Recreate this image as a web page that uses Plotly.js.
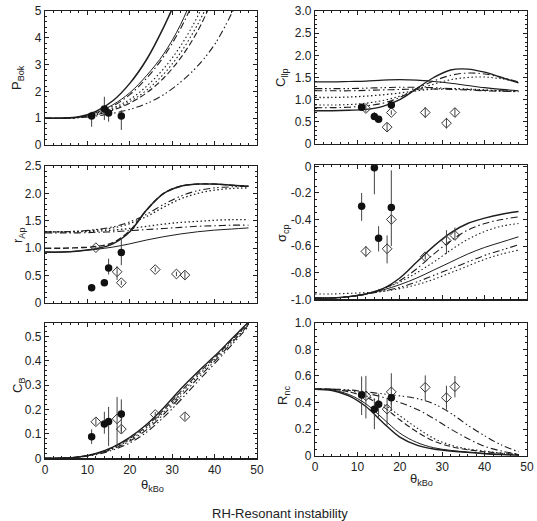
<!DOCTYPE html>
<html>
<head>
<meta charset="utf-8">
<script src="https://cdn.plot.ly/plotly-3.0.1.min.js"></script>
<style>
  html, body { margin: 0; padding: 0; background: #fff; }
  #chart { width: 537px; height: 521px; }
</style>
</head>
<body>
<div id="chart"></div>
<script>
// ---------- model curves, sampled on a common theta grid ----------
const thetaGrid = [0, 4, 8, 12, 16, 20, 24, 28, 32, 36, 40, 44, 48];

// P_Bok
const pBokSolidA   = [1, 1.0, 1.05, 1.25, 1.65, 2.3, 3.2, 4.4, 5.8];
const pBokSolidB   = [1, 1.0, 1.04, 1.2, 1.5, 1.95, 2.6, 3.4, 4.5, 6.0];
const pBokDashDot  = [1, 1.0, 1.04, 1.18, 1.45, 1.88, 2.5, 3.3, 4.35, 5.7];
const pBokDotA     = [1, 1.0, 1.03, 1.15, 1.38, 1.7, 2.2, 2.85, 3.7, 4.8, 6.2];
const pBokDotB     = [1, 1.0, 1.03, 1.13, 1.33, 1.62, 2.05, 2.65, 3.45, 4.5, 5.8];
const pBokDash     = [1, 1.0, 1.03, 1.12, 1.3, 1.56, 1.95, 2.5, 3.25, 4.25, 5.6];
const pBokDashDot2 = [1, 1.0, 1.02, 1.08, 1.18, 1.33, 1.55, 1.88, 2.35, 2.95, 3.75, 4.9, 6.2];

// C_llp
const cllpSolidRise  = [0.75, 0.75, 0.76, 0.78, 0.85, 1.0, 1.25, 1.5, 1.67, 1.69, 1.62, 1.5, 1.38];
const cllpDashDotRise= [0.82, 0.82, 0.83, 0.86, 0.92, 1.05, 1.25, 1.42, 1.55, 1.6, 1.58, 1.5, 1.4];
const cllpDotRise    = [0.88, 0.88, 0.89, 0.92, 0.98, 1.08, 1.22, 1.35, 1.45, 1.5, 1.51, 1.47, 1.4];
const cllpSolidFlat  = [1.4, 1.4, 1.41, 1.42, 1.44, 1.45, 1.44, 1.41, 1.37, 1.32, 1.27, 1.23, 1.2];
const cllpDashDot2Flat = [1.25, 1.25, 1.25, 1.26, 1.27, 1.28, 1.28, 1.27, 1.25, 1.23, 1.21, 1.2, 1.19];
const cllpDashDotFlat  = [1.2, 1.2, 1.2, 1.21, 1.22, 1.23, 1.24, 1.24, 1.23, 1.22, 1.2, 1.19, 1.18];
const cllpDotFlat    = [1.05, 1.05, 1.06, 1.08, 1.11, 1.15, 1.2, 1.24, 1.25, 1.24, 1.22, 1.2, 1.19];

// r_Ap
const rApSolidHigh  = [0.93, 0.93, 0.95, 0.99, 1.08, 1.3, 1.7, 2.0, 2.13, 2.17, 2.17, 2.15, 2.13];
const rApDashHigh   = [1.0, 1.0, 1.01, 1.03, 1.1, 1.32, 1.7, 2.0, 2.13, 2.17, 2.17, 2.15, 2.13];
const rApDotHigh    = [1.3, 1.3, 1.31, 1.33, 1.37, 1.45, 1.58, 1.75, 1.9, 2.0, 2.06, 2.09, 2.1];
const rApDashDot2High = [1.3, 1.3, 1.31, 1.34, 1.39, 1.48, 1.62, 1.8, 1.95, 2.05, 2.1, 2.12, 2.13];
const rApSolidLow   = [0.93, 0.93, 0.95, 0.98, 1.02, 1.08, 1.15, 1.21, 1.26, 1.3, 1.33, 1.35, 1.37];
const rApDotLow     = [1.3, 1.3, 1.3, 1.31, 1.33, 1.36, 1.4, 1.44, 1.47, 1.49, 1.51, 1.52, 1.52];
const rApDashDotLow = [1.28, 1.28, 1.28, 1.29, 1.3, 1.32, 1.34, 1.36, 1.38, 1.4, 1.41, 1.42, 1.42];

// sigma_cp
const sigSolidA   = [-0.99, -0.99, -0.98, -0.96, -0.92, -0.84, -0.72, -0.6, -0.5, -0.43, -0.39, -0.36, -0.34];
const sigDashDot  = [-0.99, -0.99, -0.98, -0.96, -0.92, -0.86, -0.77, -0.66, -0.56, -0.48, -0.43, -0.4, -0.38];
const sigDotA     = [-0.99, -0.99, -0.98, -0.96, -0.92, -0.87, -0.8, -0.72, -0.63, -0.55, -0.49, -0.45, -0.43];
const sigSolidB   = [-0.99, -0.99, -0.98, -0.96, -0.93, -0.89, -0.84, -0.78, -0.72, -0.66, -0.61, -0.57, -0.53];
const sigDashDot2 = [-0.99, -0.99, -0.98, -0.96, -0.94, -0.91, -0.87, -0.82, -0.77, -0.72, -0.67, -0.63, -0.59];
const sigDotB     = [-0.96, -0.96, -0.955, -0.95, -0.94, -0.92, -0.89, -0.85, -0.8, -0.75, -0.7, -0.66, -0.63];

// C_B
const cbSolid    = [0, 0.001, 0.006, 0.02, 0.046, 0.086, 0.14, 0.208, 0.285, 0.355, 0.42, 0.49, 0.56];
const cbDash     = [0, 0.001, 0.006, 0.019, 0.044, 0.081, 0.133, 0.199, 0.274, 0.346, 0.413, 0.485, 0.556];
const cbDot      = [0, 0.001, 0.005, 0.018, 0.041, 0.076, 0.126, 0.19, 0.265, 0.338, 0.407, 0.479, 0.552];
const cbDashDot  = [0, 0.001, 0.005, 0.017, 0.038, 0.071, 0.118, 0.181, 0.254, 0.328, 0.399, 0.473, 0.548];
const cbDashDot2 = [0, 0.001, 0.005, 0.015, 0.034, 0.063, 0.108, 0.169, 0.24, 0.315, 0.389, 0.465, 0.542];

// R_nc
const rncSolidA   = [0.5, 0.49, 0.45, 0.37, 0.25, 0.14, 0.08, 0.05, 0.035, 0.025, 0.015, 0.008, 0.003];
const rncSolidB   = [0.5, 0.495, 0.46, 0.39, 0.28, 0.17, 0.1, 0.06, 0.04, 0.028, 0.018, 0.01, 0.004];
const rncDash     = [0.5, 0.5, 0.48, 0.44, 0.37, 0.27, 0.18, 0.11, 0.07, 0.045, 0.03, 0.018, 0.008];
const rncDot      = [0.5, 0.5, 0.48, 0.45, 0.39, 0.3, 0.21, 0.13, 0.08, 0.05, 0.035, 0.02, 0.01];
const rncDashDot  = [0.5, 0.5, 0.49, 0.47, 0.44, 0.4, 0.35, 0.28, 0.2, 0.13, 0.07, 0.035, 0.012];
const rncDashDot2 = [0.5, 0.5, 0.495, 0.48, 0.465, 0.45, 0.43, 0.39, 0.32, 0.23, 0.15, 0.08, 0.03];

// ---------- observations ----------
const thetaFilled  = [11, 14, 15, 18];
const thetaDiamond = [12, 17, 18, 26, 31, 33];

const pBokFilled     = [1.08, 1.34, 1.19, 1.08];
const pBokFilledUp   = [0.16, 0.46, 0.24, 0.22];
const pBokFilledDown = [0.4, 0.41, 0.32, 0.52];

const cllpFilled     = [0.83, 0.62, 0.56, 0.88];
const cllpFilledUp   = [0.03, 0.1, 0.03, 0.1];
const cllpFilledDown = [0.03, 0.07, 0.03, 0.08];
const cllpDiamond     = [0.8, 0.38, 0.71, 0.71, 0.47, 0.71];
const cllpDiamondUp   = [0.08, 0.1, 0.05, 0.12, 0.12, 0.1];
const cllpDiamondDown = [0.08, 0.1, 0.05, 0.12, 0.12, 0.1];

const rApFilled     = [0.28, 0.37, 0.64, 0.92];
const rApFilledUp   = [0, 0, 0.17, 0.26];
const rApFilledDown = [0, 0, 0.12, 0.23];
const rApDiamond     = [1.01, 0.57, 0.37, 0.61, 0.53, 0.51];
const rApDiamondUp   = [0.03, 0.1, 0.04, 0.04, 0.04, 0.07];
const rApDiamondDown = [0.03, 0.15, 0.04, 0.04, 0.04, 0.07];

const sigFilled     = [-0.3, -0.01, -0.54, -0.31];
const sigFilledUp   = [0.1, 0.01, 0.09, 0.28];
const sigFilledDown = [0.11, 0.2, 0.1, 0.29];
const sigDiamond     = [-0.64, -0.62, -0.4, -0.68, -0.56, -0.52];
const sigDiamondUp   = [0.04, 0.1, 0.02, 0.02, 0.08, 0.06];
const sigDiamondDown = [0.04, 0.11, 0.02, 0.02, 0.1, 0.03];

const cbFilled     = [0.089, 0.141, 0.151, 0.182];
const cbFilledUp   = [0.03, 0.05, 0.06, 0.06];
const cbFilledDown = [0.03, 0.04, 0.1, 0.08];
const cbDiamond     = [0.15, 0.162, 0.12, 0.18, 0.24, 0.171];
const cbDiamondUp   = [0.015, 0.09, 0.01, 0.01, 0.01, 0.015];
const cbDiamondDown = [0.015, 0.11, 0.01, 0.01, 0.01, 0.015];

const rncFilled     = [0.456, 0.35, 0.386, 0.436];
const rncFilledUp   = [0.14, 0.08, 0.08, 0.03];
const rncFilledDown = [0.15, 0.15, 0.1, 0.1];
const rncDiamond     = [0.45, 0.35, 0.48, 0.514, 0.436, 0.519];
const rncDiamondUp   = [0.15, 0.08, 0.14, 0.09, 0.09, 0.08];
const rncDiamondDown = [0.17, 0.12, 0.1, 0.1, 0.09, 0.08];

// ---------- tick labels ----------
const thetaTicks = [0, 10, 20, 30, 40, 50];
const pBokTicks  = [0, 1, 2, 3, 4, 5];
const cllpTicks  = [0, 0.5, 1, 1.5, 2, 2.5, 3];
const cllpLabels = ['0', '0.5', '1.0', '1.5', '2.0', '2.5', '3.0'];
const rApTicks   = [0, 0.5, 1, 1.5, 2, 2.5];
const rApLabels  = ['0', '0.5', '1.0', '1.5', '2.0', '2.5'];
const sigTicks   = [0, -0.2, -0.4, -0.6, -0.8, -1.0];
const sigLabels  = ['0', '-0.2', '-0.4', '-0.6', '-0.8', '-1.0'];
const cbTicks    = [0, 0.1, 0.2, 0.3, 0.4, 0.5];
const cbLabels   = ['0', '0.1', '0.2', '0.3', '0.4', '0.5'];
const rncTicks   = [0, 0.2, 0.4, 0.6, 0.8, 1.0];
const rncLabels  = ['0', '0.2', '0.4', '0.6', '0.8', '1.0'];

// ---------- drawing ----------
const INK = '#1e1e1e';
const DASH = {
  solid: 'solid',
  dash: '6px,3px',
  dot: '1.5px,2.5px',
  dashdot: '7px,3px,1.5px,3px',
  dashdot2: '7px,3px,1.5px,2.5px,1.5px,3px'
};

const traces = [];

function curve(n, ys, dash, width) {
  traces.push({
    type: 'scatter', mode: 'lines',
    x: thetaGrid.slice(0, ys.length), y: ys,
    xaxis: 'x' + (n === 1 ? '' : n), yaxis: 'y' + (n === 1 ? '' : n),
    line: { color: INK, width: width || 1.1, dash: DASH[dash], shape: 'spline', smoothing: 1 },
    hoverinfo: 'skip', showlegend: false
  });
}

function points(n, xs, ys, up, down, filled) {
  traces.push({
    type: 'scatter', mode: 'markers',
    x: xs, y: ys,
    xaxis: 'x' + (n === 1 ? '' : n), yaxis: 'y' + (n === 1 ? '' : n),
    marker: filled
      ? { symbol: 'circle', size: 7.5, color: '#111' }
      : { symbol: 'diamond-open', size: 7.5, color: '#333', line: { width: 1, color: '#333' } },
    error_y: { type: 'data', symmetric: false, array: up, arrayminus: down,
               color: '#444', thickness: 1, width: 0 },
    cliponaxis: true,
    hoverinfo: 'skip', showlegend: false
  });
}

// panel 1: P_Bok
curve(1, pBokSolidA, 'solid', 1.5);
curve(1, pBokSolidB, 'solid', 1.0);
curve(1, pBokDashDot, 'dashdot');
curve(1, pBokDotA, 'dot');
curve(1, pBokDotB, 'dot');
curve(1, pBokDash, 'dash');
curve(1, pBokDashDot2, 'dashdot2');
points(1, thetaFilled, pBokFilled, pBokFilledUp, pBokFilledDown, true);

// panel 2: C_llp
curve(2, cllpSolidRise, 'solid', 1.4);
curve(2, cllpDashDotRise, 'dashdot');
curve(2, cllpDotRise, 'dot');
curve(2, cllpSolidFlat, 'solid', 1.2);
curve(2, cllpDashDot2Flat, 'dashdot2');
curve(2, cllpDashDotFlat, 'dashdot');
curve(2, cllpDotFlat, 'dot', 1.3);
points(2, thetaDiamond, cllpDiamond, cllpDiamondUp, cllpDiamondDown, false);
points(2, thetaFilled, cllpFilled, cllpFilledUp, cllpFilledDown, true);

// panel 3: r_Ap
curve(3, rApSolidHigh, 'solid', 1.5);
curve(3, rApDashHigh, 'dash', 1.4);
curve(3, rApDotHigh, 'dot', 1.3);
curve(3, rApDashDot2High, 'dashdot2');
curve(3, rApSolidLow, 'solid', 1.0);
curve(3, rApDotLow, 'dot', 1.3);
curve(3, rApDashDotLow, 'dashdot');
points(3, thetaDiamond, rApDiamond, rApDiamondUp, rApDiamondDown, false);
points(3, thetaFilled, rApFilled, rApFilledUp, rApFilledDown, true);

// panel 4: sigma_cp
curve(4, sigSolidA, 'solid', 1.4);
curve(4, sigDashDot, 'dashdot');
curve(4, sigDotA, 'dot');
curve(4, sigSolidB, 'solid', 1.0);
curve(4, sigDashDot2, 'dashdot2');
curve(4, sigDotB, 'dot');
points(4, thetaDiamond, sigDiamond, sigDiamondUp, sigDiamondDown, false);
points(4, thetaFilled, sigFilled, sigFilledUp, sigFilledDown, true);

// panel 5: C_B
curve(5, cbSolid, 'solid', 1.4);
curve(5, cbDash, 'dash');
curve(5, cbDot, 'dot');
curve(5, cbDashDot, 'dashdot');
curve(5, cbDashDot2, 'dashdot2');
points(5, thetaDiamond, cbDiamond, cbDiamondUp, cbDiamondDown, false);
points(5, thetaFilled, cbFilled, cbFilledUp, cbFilledDown, true);

// panel 6: R_nc
curve(6, rncSolidA, 'solid', 1.4);
curve(6, rncSolidB, 'solid', 1.0);
curve(6, rncDash, 'dash');
curve(6, rncDot, 'dot');
curve(6, rncDashDot, 'dashdot');
curve(6, rncDashDot2, 'dashdot2');
points(6, thetaDiamond, rncDiamond, rncDiamondUp, rncDiamondDown, false);
points(6, thetaFilled, rncFilled, rncFilledUp, rncFilledDown, true);

// ---------- layout ----------
const W = 537, H = 521;
const px = v => v / W;
const py = v => 1 - v / H;
const FONT = { family: 'Liberation Sans, Arial, sans-serif', size: 12, color: '#222' };

function xAxis(domain, anchor, labels) {
  return {
    domain: domain, anchor: anchor, range: [0, 50],
    tickvals: thetaTicks, showticklabels: labels,
    ticks: 'inside', ticklen: 4, tickcolor: INK, tickwidth: 1,
    minor: { dtick: 2, ticks: 'inside', ticklen: 2, tickcolor: INK },
    showline: true, linecolor: INK, linewidth: 1.2, mirror: 'ticks',
    showgrid: false, zeroline: false, tickfont: FONT
  };
}
function yAxis(domain, anchor, range, vals, text, minorStep) {
  return {
    domain: domain, anchor: anchor, range: range,
    tickvals: vals, ticktext: text,
    ticks: 'inside', ticklen: 4, tickcolor: INK, tickwidth: 1,
    minor: { dtick: minorStep, ticks: 'inside', ticklen: 2, tickcolor: INK },
    showline: true, linecolor: INK, linewidth: 1.2, mirror: 'ticks',
    showgrid: false, zeroline: false, tickfont: FONT
  };
}

const xL = [px(45), px(257)];
const xR = [px(315), px(527)];

const layout = {
  width: W, height: H,
  margin: { l: 0, r: 0, t: 0, b: 0 },
  paper_bgcolor: '#fff', plot_bgcolor: '#fff',
  showlegend: false,
  font: FONT,
  xaxis:  xAxis(xL, 'y', false),
  yaxis:  yAxis([py(145), py(11)], 'x', [0, 5], pBokTicks, pBokTicks.map(String), 0.2),
  xaxis2: xAxis(xR, 'y2', false),
  yaxis2: yAxis([py(144), py(11)], 'x2', [0, 3], cllpTicks, cllpLabels, 0.1),
  xaxis3: xAxis(xL, 'y3', false),
  yaxis3: yAxis([py(303), py(166)], 'x3', [0, 2.5], rApTicks, rApLabels, 0.1),
  xaxis4: xAxis(xR, 'y4', false),
  yaxis4: yAxis([py(299.3), py(165)], 'x4', [-1.0, 0.01], sigTicks, sigLabels, 0.05),
  xaxis5: xAxis(xL, 'y5', true),
  yaxis5: yAxis([py(458.3), py(322.7)], 'x5', [0, 0.557], cbTicks, cbLabels, 0.02),
  xaxis6: xAxis(xR, 'y6', true),
  yaxis6: yAxis([py(455.7), py(322.7)], 'x6', [0, 1.0], rncTicks, rncLabels, 0.05),
  annotations: [
    { text: 'P<sub>Bok</sub>', x: px(18), y: py(78), textangle: -90 },
    { text: 'C<sub>llp</sub>', x: px(282), y: py(78), textangle: -90 },
    { text: 'r<sub>Ap</sub>', x: px(18), y: py(236), textangle: -90 },
    { text: 'σ<sub>cp</sub>', x: px(282), y: py(233), textangle: -90 },
    { text: 'C<sub>B</sub>', x: px(18), y: py(386), textangle: -90 },
    { text: 'R<sub>nc</sub>', x: px(283), y: py(396), textangle: -90 },
    { text: 'θ<sub>kBo</sub>', x: px(152), y: py(485) },
    { text: 'θ<sub>kBo</sub>', x: px(421), y: py(479) },
    { text: 'RH-Resonant instability', x: px(280), y: py(513) }
  ].map(a => Object.assign({
    xref: 'paper', yref: 'paper', showarrow: false,
    xanchor: 'center', yanchor: 'middle',
    font: { family: FONT.family, size: 13, color: '#222' }
  }, a))
};

Plotly.newPlot('chart', traces, layout, { staticPlot: true, displayModeBar: false });
</script>
</body>
</html>
